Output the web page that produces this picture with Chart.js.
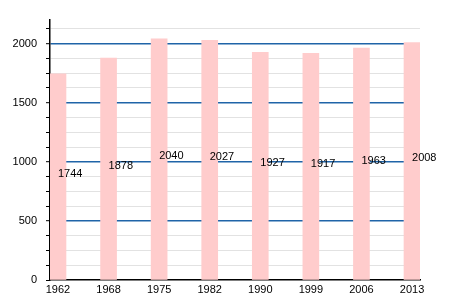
<!DOCTYPE html>
<html>
<head>
<meta charset="utf-8">
<script src="https://cdn.jsdelivr.net/npm/chart.js@4/dist/chart.umd.min.js"></script>
<style>
html,body{margin:0;padding:0;background:#fff;}
canvas{display:block;}
</style>
</head>
<body>
<canvas id="c" width="450" height="300"></canvas>
<script>
const years = ['1962','1968','1975','1982','1990','1999','2006','2013'];
const population = [1744,1878,2040,2027,1927,1917,1963,2008];
const yMax = 2200;
const yStep = 125;
const yLabelStep = 500;

const FONT = '"Liberation Sans", Arial, sans-serif';
const points = population.map((v, i) => ({x: i, y: v}));

const valueLabels = {
  id: 'valueLabels',
  afterDatasetsDraw(chart) {
    const ctx = chart.ctx;
    const xs = chart.scales.x, ys = chart.scales.y;
    ctx.save();
    ctx.font = '11px ' + FONT;
    ctx.fillStyle = '#000';
    ctx.textAlign = 'left';
    ctx.textBaseline = 'alphabetic';
    population.forEach((v, i) => {
      ctx.fillText(String(v), xs.getPixelForValue(i), ys.getPixelForValue(v / 2));
    });
    ctx.restore();
  }
};

const stepsPerLabel = yLabelStep / yStep;
const isMajor = c => c.index > 0 && c.index % stepsPerLabel === 0;

new Chart(document.getElementById('c'), {
  type: 'bar',
  data: {
    datasets: [{
      data: points,
      backgroundColor: '#ffcccc',
      borderWidth: 0,
      barThickness: 16
    }]
  },
  options: {
    responsive: false,
    animation: false,
    layout: {padding: {top: 20, right: 30, left: 0, bottom: 0}},
    plugins: {legend: {display: false}, tooltip: {enabled: false}},
    scales: {
      x: {
        type: 'linear',
        offset: false,
        min: -0.158,
        max: years.length - 1 + 0.158,
        afterBuildTicks: s => { s.ticks = years.map((_, i) => ({value: i})); },
        afterFit: s => { s.height = 20; },
        grid: {display: false, drawTicks: false, offset: false},
        border: {display: true, color: '#000', width: 1.5},
        ticks: {
          padding: 3,
          maxRotation: 0,
          autoSkip: false,
          color: '#000',
          font: {family: FONT, size: 11},
          callback: v => years[v]
        }
      },
      y: {
        min: 0,
        max: yMax,
        afterBuildTicks: s => {
          const t = [];
          for (let v = 0; v < yMax; v += yStep) t.push({value: v});
          s.ticks = t;
        },
        afterFit: s => { s.width = 50; },
        grid: {
          color: c => {
            if (c.index === 0) return 'rgba(0,0,0,0)';
            return isMajor(c) ? '#1f64a8' : '#e2e2e2';
          },
          lineWidth: c => (isMajor(c) ? 1.4 : 1),
          tickColor: '#000',
          tickLength: 4,
          tickWidth: 1
        },
        border: {display: true, color: '#000', width: 1.5},
        ticks: {
          padding: 9,
          autoSkip: false,
          color: '#000',
          font: {family: FONT, size: 11},
          callback: v => (v % yLabelStep === 0 ? String(v) : '')
        }
      }
    }
  },
  plugins: [valueLabels]
});
</script>
</body>
</html>
